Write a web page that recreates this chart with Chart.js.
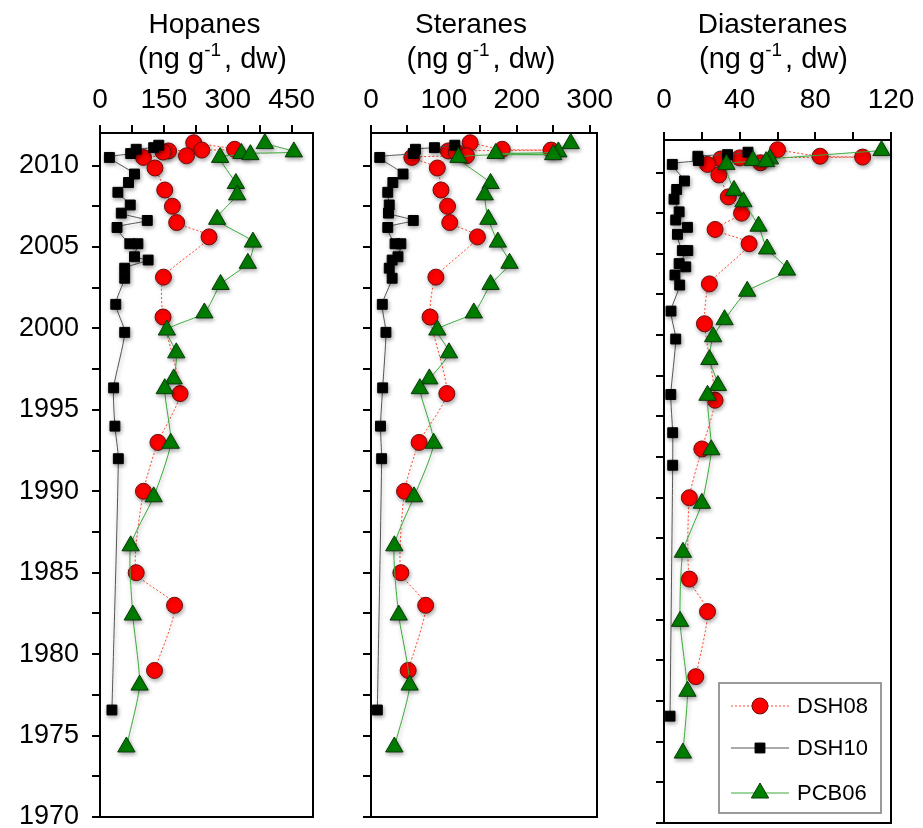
<!DOCTYPE html>
<html><head><meta charset="utf-8">
<script src="https://cdn.jsdelivr.net/npm/chart.js@4.4.0/dist/chart.umd.min.js"></script>
<style>
html,body{margin:0;padding:0;background:#fff;width:923px;height:828px;overflow:hidden}
.p{position:absolute;top:0}
canvas{display:block}
</style></head><body>
<div class="p" style="left:0"><canvas id="c1" width="330" height="828"></canvas></div>
<div class="p" style="left:330px"><canvas id="c2" width="290" height="828"></canvas></div>
<div class="p" style="left:620px"><canvas id="c3" width="303" height="828"></canvas></div>
<script>
// ---- Data ----
const seriesNames = ['DSH08', 'DSH10', 'PCB06'];
const panelTitles = ['Hopanes', 'Steranes', 'Diasteranes'];
const unitLabel = ['(ng g', '-1', ', dw)'];

const years_DSH08 = [2011.4, 2011.0, 2010.95, 2010.9, 2010.83, 2010.6, 2010.5, 2009.85, 2008.5, 2007.5, 2006.5, 2005.62, 2003.15, 2000.7, 1996.0, 1993.0, 1990.0, 1985.0, 1983.0, 1979.0];
const hopanes_DSH08 = [220, 316, 239, 161, 148, 203, 102, 129, 152, 170, 180, 256, 149, 148, 188, 136, 102, 85, 175, 128];
const steranes_DSH08 = [136, 180, 247, 106, 117, 131, 56, 91, 96, 105, 108, 146, 89, 81, 104, 66, 46, 41, 75, 51];
const diasteranes_DSH08 = [60, 82.5, 105, 40, 30, 51, 23, 29, 34, 41, 27, 45, 24, 21.4, 27, 20, 13.4, 13.4, 23, 16.8];

const years_DSH10 = [2011.25, 2011.1, 2011.0, 2010.74, 2010.5, 2009.48, 2008.96, 2008.36, 2007.58, 2007.08, 2006.63, 2006.2, 2005.2, 2005.2, 2004.4, 2004.2, 2003.7, 2003.08, 2001.48, 1999.76, 1996.35, 1994.0, 1992.0, 1976.57];
const hopanes_DSH10 = [138, 126, 85, 72, 22, 81, 67, 42, 71, 50, 111, 40, 70, 89, 81, 113, 58, 58, 37, 58, 32, 35, 43, 28];
const steranes_DSH10 = [115, 87, 61, 58, 12, 44, 30, 23, 25, 24, 58, 23, 33, 41, 37, 29, 25, 29, 15.5, 20.5, 16, 13, 14.6, 8.7];
const diasteranes_DSH10 = [44.4, 33.6, 17.9, 18.2, 4.4, 10.8, 6.7, 5.3, 8, 6.2, 12.4, 7.1, 9.7, 12.6, 8, 11.5, 5.8, 8.3, 3.7, 6.2, 3.6, 4.6, 4.6, 3.2];

const years_PCB06 = [2011.35, 2010.84, 2010.74, 2010.67, 2010.5, 2008.9, 2008.2, 2006.7, 2005.3, 2004.0, 2002.7, 2000.95, 1999.9, 1998.5, 1996.9, 1996.3, 1992.95, 1989.66, 1986.65, 1982.4, 1978.1, 1974.3];
const hopanes_PCB06 = [387, 455, 332, 353, 282, 319, 322, 275, 359, 347, 283, 245, 157, 179, 173, 152, 166, 126, 72, 77, 93, 62];
const steranes_PCB06 = [274, 257, 171, 250, 120, 164, 156, 161, 174, 190, 164, 141, 91, 107, 80, 67, 86, 59, 32, 38, 53, 32];
const diasteranes_PCB06 = [115, 56, 47, 54, 33, 37, 42, 50, 54.5, 65, 44, 32, 26, 24, 28.5, 23, 25, 20, 10, 8.5, 12.4, 10];

const yearRange = [1970, 2012];
const yearStep = 2.5, yearLabelStep = 5;
const xRanges = [[0, 500], [0, 310], [0, 120]];
const xSteps = [75, 50, 20];
const xLabelSteps = [150, 100, 40];

// ---- Styles ----
const FONT = '"Liberation Sans", Arial, Helvetica, sans-serif';
const styles = {
  DSH08: {pointStyle: 'circle', radius: 8, bg: '#ff0000', border: '#6a1010', line: '#ff4a30', dash: [2, 2], order: 3},
  DSH10: {pointStyle: 'rect', radius: 7, bg: '#000000', border: '#000000', line: '#555555', dash: [], order: 2},
  PCB06: {pointStyle: 'triangle', radius: 10, bg: '#008000', border: '#0b3a0b', line: '#3aaa3a', dash: [], order: 1}
};

function pts(xs, ys) { return xs.map((v, i) => ({x: v, y: ys[i]})); }
function ds(name, xs, ys) {
  const s = styles[name];
  return {
    label: name, data: pts(xs, ys), showLine: true, tension: 0.2,
    borderColor: s.line, borderWidth: 1, borderDash: s.dash,
    pointStyle: s.pointStyle, pointRadius: s.radius, pointBackgroundColor: s.bg,
    pointBorderColor: s.border, pointBorderWidth: 1, order: s.order, clip: false
  };
}
function isMult(v, base, step) { const k = (v - base) / step; return Math.abs(k - Math.round(k)) < 1e-6; }
function stepTicks(min, max, step) { const out = []; for (let k = 0; min + k * step <= max + 1e-9; k++) out.push({value: min + k * step}); return out; }
function zeroPad(s) { s.paddingTop = 0; s.paddingBottom = 0; s.paddingLeft = 0; s.paddingRight = 0; }

const shadowPlugin = {
  id: 'shadow',
  beforeDatasetsDraw(chart) { const c = chart.ctx; c.save(); c.shadowColor = 'rgba(0,0,0,0.35)'; c.shadowBlur = 4; c.shadowOffsetX = 1; c.shadowOffsetY = 2; },
  afterDatasetsDraw(chart) { chart.ctx.restore(); }
};
const framePlugin = {
  id: 'frame',
  afterDraw(chart) {
    const a = chart.chartArea, c = chart.ctx;
    c.save(); c.strokeStyle = '#000'; c.lineWidth = 2;
    c.beginPath();
    c.moveTo(a.right, a.top - 1); c.lineTo(a.right, a.bottom); c.lineTo(a.left - 1, a.bottom);
    c.stroke(); c.restore();
  }
};
function titlePlugin(name, dx1, dx2) {
  return {
    id: 'ttl',
    afterDraw(chart) {
      const c = chart.ctx, a = chart.chartArea;
      const cx = (a.left + a.right) / 2;
      c.save(); c.fillStyle = '#000'; c.textBaseline = 'alphabetic';
      c.font = '28px ' + FONT; c.textAlign = 'center';
      c.fillText(name, cx + dx1, 33);
      const big = '29px ' + FONT, small = '19px ' + FONT;
      c.font = big; const w1 = c.measureText(unitLabel[0]).width, w3 = c.measureText(unitLabel[2]).width;
      c.font = small; const w2 = c.measureText(unitLabel[1]).width;
      const gap = 3;
      let x = cx + dx2 - (w1 + w2 + w3 + gap) / 2; c.textAlign = 'left';
      c.font = big; c.fillText(unitLabel[0], x, 68); x += w1;
      c.font = small; c.fillText(unitLabel[1], x, 56); x += w2 + gap;
      c.font = big; c.fillText(unitLabel[2], x, 68);
      c.restore();
    }
  };
}
const legendPlugin = {
  id: 'customLegend',
  afterDraw(chart) {
    const c = chart.ctx;
    const bx = 99, by = 683, bw = 162, bh = 130;
    c.save();
    c.fillStyle = '#fff'; c.fillRect(bx, by, bw, bh);
    c.strokeStyle = '#9a9a9a'; c.lineWidth = 2; c.strokeRect(bx, by, bw, bh);
    const rows = [706, 748, 793];
    seriesNames.forEach((n, i) => {
      const s = styles[n], y = rows[i];
      c.strokeStyle = s.line; c.lineWidth = 1; c.setLineDash(s.dash);
      c.beginPath(); c.moveTo(111, y); c.lineTo(169, y); c.stroke(); c.setLineDash([]);
      c.fillStyle = s.bg; c.strokeStyle = s.border; c.lineWidth = 1;
      Chart.helpers.drawPoint(c, {pointStyle: s.pointStyle, radius: s.radius, rotation: 0, borderWidth: 1}, 140, y);
      c.fillStyle = '#000'; c.font = '22px ' + FONT; c.textAlign = 'left'; c.textBaseline = 'middle';
      c.fillText(n, 177, y + 1);
    });
    c.restore();
  }
};

function makePanel(id, idx, opt) {
  const [xmin, xmax] = xRanges[idx];
  const data = [
    [hopanes_DSH08, hopanes_DSH10, hopanes_PCB06],
    [steranes_DSH08, steranes_DSH10, steranes_PCB06],
    [diasteranes_DSH08, diasteranes_DSH10, diasteranes_PCB06]
  ][idx];
  const datasets = [
    ds('DSH08', data[0], years_DSH08),
    ds('DSH10', data[1], years_DSH10),
    ds('PCB06', data[2], years_PCB06)
  ];
  const plugins = [shadowPlugin, framePlugin, titlePlugin(panelTitles[idx], opt.dx1, opt.dx2)];
  if (opt.legend) plugins.push(legendPlugin);
  new Chart(document.getElementById(id), {
    type: 'scatter',
    data: {datasets},
    plugins,
    options: {
      responsive: false, animation: false, devicePixelRatio: 1,
      layout: {autoPadding: false, padding: {left: 0, top: 0, right: opt.padRight, bottom: opt.padBottom}},
      plugins: {legend: {display: false}, tooltip: {enabled: false}},
      scales: {
        x: {
          type: 'linear', position: 'top', min: xmin, max: xmax,
          afterFit(s) { s.height = opt.xAxisH; zeroPad(s); },
          afterBuildTicks(s) { s.ticks = stepTicks(xmin, xmax, xSteps[idx]); },
          ticks: {stepSize: xSteps[idx], color: '#000', font: {family: FONT, size: 28}, padding: opt.xPad, maxRotation: 0, autoSkip: false,
            callback: v => isMult(v, 0, xLabelSteps[idx]) ? String(v) : ''},
          grid: {drawOnChartArea: false, drawTicks: true, tickLength: 8, color: '#000', lineWidth: 2},
          border: {display: true, color: '#000', width: 2}
        },
        y: {
          type: 'linear', position: 'left', min: yearRange[0], max: yearRange[1],
          afterFit(s) { s.width = opt.yAxisW; zeroPad(s); },
          afterBuildTicks(s) { s.ticks = stepTicks(yearRange[0], yearRange[1], yearStep); },
          ticks: {stepSize: yearStep, color: '#000', font: {family: FONT, size: 27}, padding: 13, autoSkip: false,
            callback: v => (opt.yLabels && isMult(v, yearRange[0], yearLabelStep)) ? String(v) : ''},
          grid: {drawOnChartArea: false, drawTicks: true, tickLength: 8, color: '#000', lineWidth: 2},
          border: {display: true, color: '#000', width: 2}
        }
      }
    }
  });
}

makePanel('c1', 0, {yAxisW: 100, xAxisH: 133, xPad: 8, padRight: 17, padBottom: 11, yLabels: true, dx1: -2, dx2: 6});
makePanel('c2', 1, {yAxisW: 41, xAxisH: 133, xPad: 8, padRight: 23, padBottom: 11, yLabels: false, dx1: -13, dx2: -3});
makePanel('c3', 2, {yAxisW: 44, xAxisH: 140, xPad: 15, padRight: 32, padBottom: 5, yLabels: false, dx1: -5, dx2: -4, legend: true});
</script>
</body></html>
